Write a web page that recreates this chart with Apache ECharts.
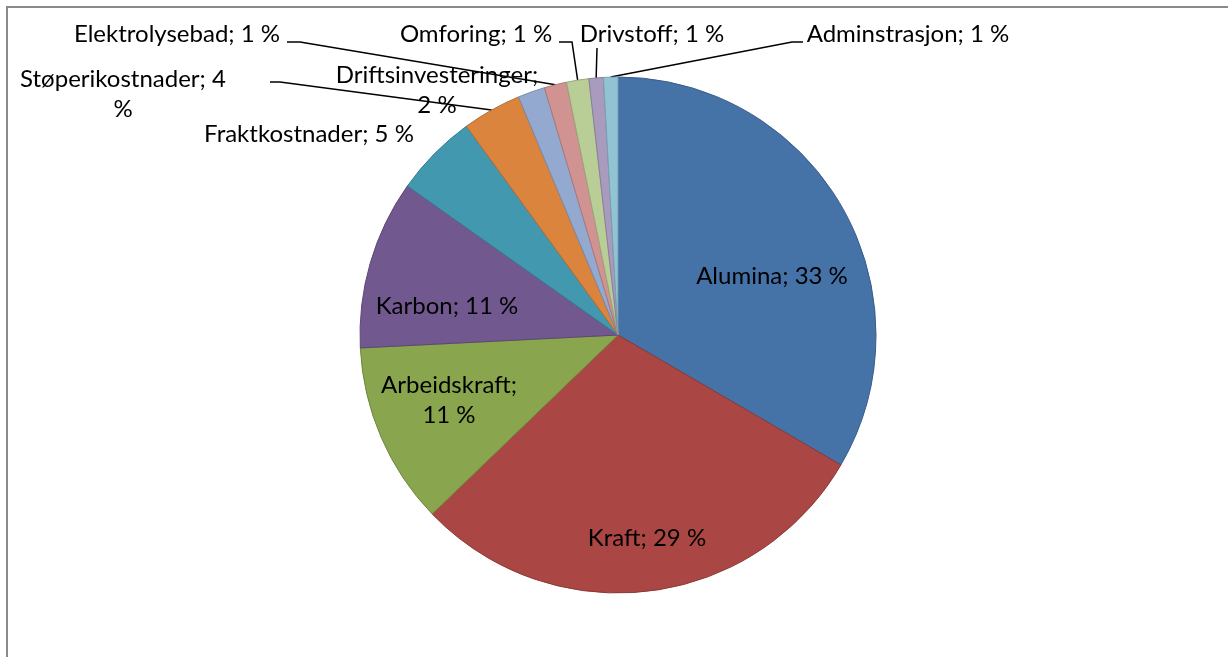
<!DOCTYPE html>
<html>
<head>
<meta charset="utf-8">
<script src="https://cdn.jsdelivr.net/npm/echarts@6/dist/echarts.min.js"></script>
<style>
  html, body { margin: 0; padding: 0; background: #ffffff; }
  #chart { width: 1228px; height: 657px; }
</style>
</head>
<body>
<div id="chart"></div>
<script>
// Cost categories and their share of total cost (percent)
const categories = [
  'Alumina', 'Kraft', 'Arbeidskraft', 'Karbon', 'Fraktkostnader',
  'Støperikostnader', 'Driftsinvesteringer', 'Elektrolysebad',
  'Omforing', 'Drivstoff', 'Adminstrasjon'
];
const shares = [33.4, 29.4, 11.4, 10.6, 5.2, 3.7, 1.7, 1.4, 1.4, 0.9, 0.9];

// Slice fills and outlines
const fills = [
  '#4572A7', '#AA4643', '#89A54E', '#71588F', '#4198AF',
  '#DB843D', '#93A9CF', '#D19392', '#B9CD96', '#A99BBD', '#92C3D5'
];

function darken(hex, k) {
  const n = parseInt(hex.slice(1), 16);
  const r = Math.round(((n >> 16) & 255) * k);
  const g = Math.round(((n >> 8) & 255) * k);
  const b = Math.round((n & 255) * k);
  return 'rgb(' + r + ',' + g + ',' + b + ')';
}

// Where each label sits: inside the slice or outside with a leader line,
// how its text wraps, its centre point and the bends of the leader line.
const labelStyle = {
  'Alumina':             { inside: true,  wrap: '',       at: [772, 276] },
  'Kraft':               { inside: true,  wrap: '',       at: [647, 538] },
  'Arbeidskraft':        { inside: true,  wrap: 'name',   at: [449, 400] },
  'Karbon':              { inside: true,  wrap: '',       at: [447, 306] },
  'Fraktkostnader':      { inside: false, wrap: '',       at: [309, 134] },
  'Støperikostnader':    { inside: false, wrap: 'unit',   at: [123, 94],  bends: [[280, 82], [270, 82]] },
  'Driftsinvesteringer': { inside: false, wrap: 'name',   at: [437, 90] },
  'Elektrolysebad':      { inside: false, wrap: '',       at: [177, 34],  bends: [[300, 42], [287, 42]] },
  'Omforing':            { inside: false, wrap: '',       at: [476, 34],  bends: [[572, 42], [559, 42]] },
  'Drivstoff':           { inside: false, wrap: '',       at: [652, 34],  bends: [[597, 48]] },
  'Adminstrasjon':       { inside: false, wrap: '',       at: [908, 34],  bends: [[792, 42], [803, 42]] }
};

const pieData = categories.map(function (name, i) {
  const s = labelStyle[name];
  return {
    name: name,
    value: shares[i],
    itemStyle: { color: fills[i], borderColor: darken(fills[i], 0.82) },
    label: { position: s.inside ? 'inside' : 'outside' },
    labelLine: { show: !!s.bends }
  };
});

function labelText(p) {
  const pct = Math.round(p.percent) + ' %';
  const wrap = labelStyle[p.name].wrap;
  if (wrap === 'name') return p.name + ';\n' + pct;
  if (wrap === 'unit') return p.name + '; ' + Math.round(p.percent) + '\n%';
  return p.name + '; ' + pct;
}

const chart = echarts.init(document.getElementById('chart'), null, { renderer: 'canvas' });

chart.setOption({
  backgroundColor: '#ffffff',
  animation: false,
  graphic: [{
    type: 'rect',
    z: -10,
    silent: true,
    shape: { x: 7, y: 7, width: 1300, height: 720 },
    style: { fill: 'none', stroke: '#8a8a8a', lineWidth: 2 }
  }],
  series: [{
    type: 'pie',
    center: [618, 335],
    radius: [0, 258],
    startAngle: 90,
    clockwise: true,
    avoidLabelOverlap: false,
    percentPrecision: 2,
    data: pieData,
    itemStyle: { borderWidth: 1 },
    emphasis: { disabled: true },
    label: {
      show: true,
      formatter: labelText,
      fontFamily: 'Lato',
      fontSize: 24,
      lineHeight: 30,
      color: '#000000',
      align: 'center'
    },
    labelLine: {
      lineStyle: { color: '#000000', width: 1.5 },
      length: 10,
      length2: 10
    },
    labelLayout: function (params) {
      const s = labelStyle[categories[params.dataIndex]];
      const out = { x: s.at[0], y: s.at[1], align: 'center', verticalAlign: 'middle' };
      if (s.bends && params.labelLinePoints) {
        out.labelLinePoints = [params.labelLinePoints[0]].concat(s.bends);
      }
      return out;
    }
  }]
});
</script>
</body>
</html>
